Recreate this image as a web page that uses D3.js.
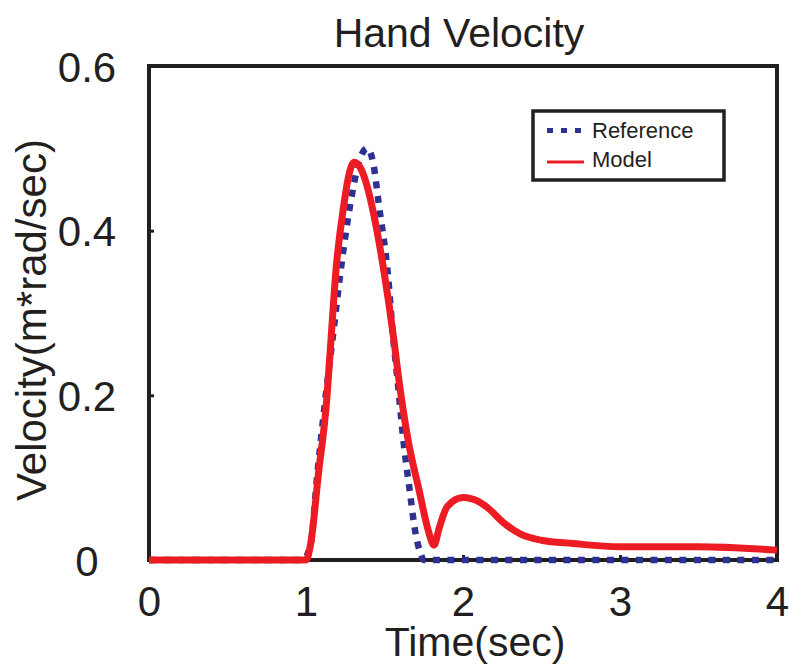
<!DOCTYPE html>
<html>
<head>
<meta charset="utf-8">
<script src="https://cdn.jsdelivr.net/npm/d3@7"></script>
<style>
  body { margin: 0; background: #fff; }
  text { font-family: "Liberation Sans", Arial, sans-serif; fill: #231f20; }
</style>
</head>
<body>
<svg id="chart"></svg>
<script>
// time (sec) and velocity values
var refT = [0, 0.98, 1.03, 1.07, 1.12, 1.17, 1.22, 1.28, 1.34, 1.39, 1.43, 1.465, 1.52, 1.555, 1.585, 1.62, 1.66, 1.70, 1.73, 1.75, 2.5, 4];
var refV = [0, 0, 0.02, 0.1, 0.19, 0.27, 0.35, 0.43, 0.485, 0.5, 0.48, 0.43, 0.35, 0.27, 0.215, 0.146, 0.085, 0.03, 0.008, 0, 0, 0];

var modT = [0, 1.0, 1.03, 1.08, 1.13, 1.16, 1.19, 1.24, 1.27, 1.306, 1.35, 1.38, 1.42, 1.497, 1.56, 1.586, 1.65, 1.72, 1.78, 1.815, 1.85, 1.9, 2.0, 2.1, 2.16, 2.26, 2.37, 2.5, 2.7, 3.0, 3.5, 4.0];
var modV = [0, 0, 0.02, 0.106, 0.19, 0.27, 0.35, 0.43, 0.465, 0.483, 0.475, 0.46, 0.43, 0.35, 0.267, 0.227, 0.146, 0.085, 0.035, 0.018, 0.04, 0.065, 0.076, 0.071, 0.063, 0.045, 0.031, 0.024, 0.02, 0.016, 0.016, 0.012];

var xTicks = [0, 1, 2, 3, 4];
var yTicks = [0, 0.2, 0.4, 0.6];
var seriesNames = ["Reference", "Model"];

var W = 789, H = 666;
var pLeft = 149, pRight = 777, pTop = 66, pBottom = 560;
var ink = "#231f20", blue = "#2e3192", red = "#ed1c24";

var svg = d3.select("#chart").attr("width", W).attr("height", H);

var x = d3.scaleLinear().domain([0, 4]).range([pLeft, pRight]);
var y = d3.scaleLinear().domain([0, 0.6]).range([pBottom, pTop]);

// ticks (inside)
var xAxis = svg.append("g")
  .attr("transform", "translate(0," + pBottom + ")")
  .call(d3.axisBottom(x).tickValues(xTicks).tickSizeInner(-5).tickSizeOuter(0).tickFormat(d3.format("d")));
xAxis.select(".domain").remove();
xAxis.selectAll("line").attr("stroke", ink).attr("stroke-width", 3);
xAxis.selectAll("text").attr("y", 0).attr("dy", null).attr("transform", "translate(0,56)")
  .style("font-size", "42px").attr("fill", ink);

var yAxis = svg.append("g")
  .attr("transform", "translate(" + pLeft + ",0)")
  .call(d3.axisLeft(y).tickValues(yTicks).tickSizeInner(-5).tickSizeOuter(0)
    .tickFormat(function (d) { return d === 0 ? "0" : d.toFixed(1); }));
yAxis.select(".domain").remove();
yAxis.selectAll("line").attr("stroke", ink).attr("stroke-width", 3);
yAxis.selectAll("text").attr("x", -62).attr("dy", "0.36em").attr("text-anchor", "middle")
  .style("font-size", "42px").attr("fill", ink);

// lines
var line = d3.line().curve(d3.curveMonotoneX)
  .x(function (d) { return x(d[0]); })
  .y(function (d) { return y(d[1]); });

var refData = refT.map(function (t, i) { return [t, refV[i]]; });
var modData = modT.map(function (t, i) { return [t, modV[i]]; });

// frame
svg.append("rect")
  .attr("x", pLeft).attr("y", pTop)
  .attr("width", pRight - pLeft).attr("height", pBottom - pTop)
  .attr("fill", "none").attr("stroke", ink).attr("stroke-width", 4);

svg.append("path").datum(refData).attr("d", line)
  .attr("fill", "none").attr("stroke", blue).attr("stroke-width", 6.5)
  .attr("stroke-dasharray", "7,7.5");

svg.append("path").datum(modData).attr("d", line)
  .attr("fill", "none").attr("stroke", red).attr("stroke-width", 7)
  .attr("stroke-linejoin", "round");

// legend
var lg = svg.append("g");
lg.append("rect").attr("x", 533).attr("y", 111).attr("width", 191).attr("height", 69)
  .attr("fill", "#fff").attr("stroke", ink).attr("stroke-width", 3.5);
lg.append("line").attr("x1", 547).attr("x2", 583).attr("y1", 130.5).attr("y2", 130.5)
  .attr("stroke", blue).attr("stroke-width", 5).attr("stroke-dasharray", "6,8");
lg.append("line").attr("x1", 547).attr("x2", 584).attr("y1", 162).attr("y2", 162)
  .attr("stroke", red).attr("stroke-width", 3);
lg.selectAll("text.leg").data(seriesNames).enter().append("text")
  .attr("class", "leg")
  .attr("x", 592).attr("y", function (d, i) { return 138 + i * 29; })
  .style("font-size", "22px")
  .text(function (d) { return d; });

// titles
svg.append("text").attr("x", 459).attr("y", 47).attr("text-anchor", "middle")
  .style("font-size", "41px").text("Hand Velocity");
svg.append("text").attr("x", 475).attr("y", 656).attr("text-anchor", "middle")
  .style("font-size", "41px").text("Time(sec)");
svg.append("text").attr("transform", "translate(46,320) rotate(-90)").attr("text-anchor", "middle")
  .style("font-size", "42px").text("Velocity(m*rad/sec)");
</script>
</body>
</html>
